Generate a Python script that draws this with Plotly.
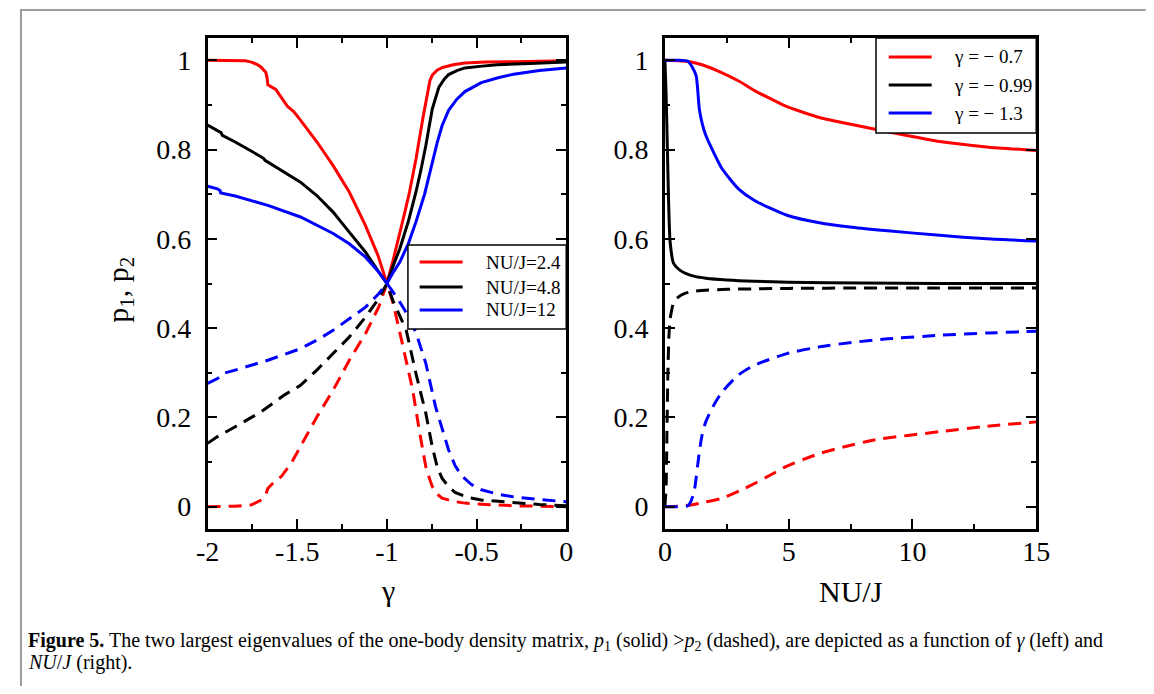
import plotly.graph_objects as go

# page is 1154x694; the html body has an 8px margin, so the figure is sized to fit inside it
OFF = 8
FW, FH = 1154 - 2 * OFF, 694 - 2 * OFF

# ---------------- data: left panel (x = gamma) ----------------
nuj_labels = ["NU/J=2.4", "NU/J=4.8", "NU/J=12"]

g_red_p1 = [-2, -1.85, -1.79, -1.755, -1.72, -1.70, -1.675, -1.668, -1.664, -1.62, -1.59, -1.555, -1.52, -1.48,
            -1.39, -1.30, -1.21, -1.12, -1.05, -1.0, -0.965, -0.93, -0.90, -0.874, -0.838, -0.80, -0.774,
            -0.76, -0.747, -0.72, -0.69, -0.63, -0.565, -0.45, -0.29, -0.15, 0]
red_p1 = [1.0, 1.0, 0.999, 0.996, 0.99, 0.984, 0.973, 0.96, 0.945, 0.935, 0.917, 0.897, 0.885, 0.865,
          0.817, 0.764, 0.705, 0.630, 0.563, 0.50, 0.553, 0.608, 0.66, 0.705, 0.779, 0.869, 0.930,
          0.955, 0.967, 0.978, 0.984, 0.99, 0.994, 0.996, 0.997, 0.998, 0.999]

g_red_p2 = [-2, -1.85, -1.755, -1.70, -1.675, -1.664, -1.63, -1.59, -1.53, -1.482, -1.391, -1.30, -1.21,
            -1.119, -1.046, -1.0, -0.965, -0.91, -0.856, -0.82, -0.783, -0.76, -0.747, -0.72, -0.692,
            -0.63, -0.565, -0.45, -0.293, -0.15, 0]
red_p2 = [0.0, 0.001, 0.004, 0.015, 0.028, 0.041, 0.055, 0.067, 0.10, 0.134, 0.201, 0.261, 0.328,
          0.388, 0.447, 0.50, 0.455, 0.358, 0.261, 0.172, 0.089, 0.06, 0.045, 0.028, 0.019,
          0.012, 0.008, 0.005, 0.002, 0.001, 0.0]

g_blk_p1 = [-2, -1.945, -1.925, -1.918, -1.846, -1.75, -1.70, -1.69, -1.68, -1.573, -1.482, -1.391, -1.30,
            -1.21, -1.119, -1.046, -1.0, -0.965, -0.928, -0.88, -0.838, -0.81, -0.783, -0.747, -0.71,
            -0.68, -0.656, -0.61, -0.565, -0.47, -0.384, -0.2, 0]
blk_p1 = [0.855, 0.843, 0.838, 0.832, 0.817, 0.795, 0.783, 0.781, 0.776, 0.749, 0.727, 0.697, 0.660,
          0.615, 0.570, 0.526, 0.50, 0.54, 0.578, 0.64, 0.705, 0.755, 0.809, 0.891, 0.940,
          0.958, 0.968, 0.977, 0.983, 0.987, 0.990, 0.993, 0.996]

g_blk_p2 = [-2, -1.945, -1.846, -1.70, -1.573, -1.482, -1.391, -1.30, -1.21, -1.119, -1.046, -1.0, -0.965,
            -0.92, -0.892, -0.838, -0.783, -0.747, -0.72, -0.692, -0.656, -0.62, -0.55, -0.474, -0.293,
            -0.15, 0]
blk_p2 = [0.142, 0.157, 0.179, 0.213, 0.25, 0.272, 0.306, 0.343, 0.38, 0.425, 0.466, 0.50, 0.46,
          0.42, 0.395, 0.298, 0.209, 0.134, 0.09, 0.063, 0.045, 0.032, 0.021, 0.015, 0.009,
          0.005, 0.002]

g_blu_p1 = [-2, -1.945, -1.93, -1.927, -1.846, -1.664, -1.482, -1.30, -1.21, -1.119, -1.046, -1.0, -0.965,
            -0.928, -0.88, -0.838, -0.79, -0.747, -0.72, -0.692, -0.656, -0.61, -0.565, -0.474, -0.38,
            -0.293, -0.15, 0]
blu_p1 = [0.718, 0.712, 0.708, 0.703, 0.696, 0.675, 0.649, 0.612, 0.589, 0.559, 0.526, 0.50, 0.525,
          0.548, 0.59, 0.638, 0.70, 0.772, 0.815, 0.854, 0.888, 0.913, 0.930, 0.950, 0.961,
          0.969, 0.977, 0.983]

g_blu_p2 = [-2, -1.945, -1.925, -1.918, -1.846, -1.664, -1.482, -1.391, -1.30, -1.21, -1.119, -1.046, -1.0,
            -0.946, -0.9, -0.838, -0.783, -0.729, -0.656, -0.62, -0.583, -0.53, -0.474, -0.38, -0.293,
            -0.15, 0]
blu_p2 = [0.276, 0.287, 0.293, 0.298, 0.306, 0.328, 0.354, 0.373, 0.395, 0.421, 0.447, 0.477, 0.50,
          0.47, 0.44, 0.39, 0.321, 0.224, 0.127, 0.092, 0.069, 0.05, 0.038, 0.028, 0.022,
          0.016, 0.011]

# ---------------- data: right panel (x = NU/J) ----------------
gamma_labels = ["γ = − 0.7", "γ = − 0.99", "γ = − 1.3"]

u_red_p1 = [0, 0.5, 1.0, 1.5, 2.31, 3.0, 3.62, 4.3, 4.93, 5.6, 6.24, 7.56, 9.0, 11.1, 13.0, 15]
r_red_p1 = [1.0, 0.999, 0.997, 0.99, 0.972, 0.953, 0.932, 0.913, 0.896, 0.883, 0.872, 0.856, 0.84,
            0.818, 0.806, 0.798]

u_red_p2 = [0, 0.5, 1.06, 1.6, 2.31, 3.0, 3.62, 4.3, 4.93, 5.6, 6.24, 7.17, 8.5, 11.1, 13.0, 15]
r_red_p2 = [0.0, 0.001, 0.004, 0.01, 0.019, 0.035, 0.052, 0.072, 0.091, 0.106, 0.119, 0.133, 0.15, 0.168,
            0.18, 0.19]

u_blk_p1 = [0, 0.05, 0.1, 0.15, 0.21, 0.35, 0.6, 0.86, 1.2, 1.65, 2.5, 3.62, 5, 8, 11, 15]
r_blk_p1 = [1.0, 0.92, 0.80, 0.68, 0.593, 0.545, 0.53, 0.522, 0.516, 0.512, 0.508, 0.505, 0.503, 0.501,
            0.50, 0.50]

u_blk_p2 = [0, 0.05, 0.08, 0.12, 0.16, 0.21, 0.35, 0.55, 0.76, 1.1, 1.65, 2.5, 3.62, 5, 8, 11, 15]
r_blk_p2 = [0.0, 0.05, 0.16, 0.3, 0.38, 0.42, 0.457, 0.47, 0.477, 0.482, 0.485, 0.487, 0.488, 0.489,
            0.49, 0.49, 0.49]

u_blu_p1 = [0, 0.5, 0.93, 1.1, 1.26, 1.39, 1.5, 1.65, 2.0, 2.31, 2.97, 3.62, 4.93, 6.24, 7.56, 9.0, 11.1,
            13.0, 15]
r_blu_p1 = [1.0, 1.0, 0.998, 0.985, 0.966, 0.891, 0.86, 0.832, 0.79, 0.757, 0.712, 0.686, 0.653, 0.636,
            0.626, 0.618, 0.608, 0.60, 0.595]

u_blu_p2 = [0, 0.5, 0.93, 1.05, 1.19, 1.39, 1.5, 1.65, 2.0, 2.31, 2.97, 3.62, 4.93, 6.24, 7.56, 9.0, 11.1,
            13.0, 15]
r_blu_p2 = [0.0, 0.0, 0.002, 0.012, 0.037, 0.123, 0.16, 0.19, 0.23, 0.257, 0.295, 0.317, 0.343, 0.358,
            0.368, 0.376, 0.384, 0.389, 0.393]

# tick labels
left_xticks = [-2, -1.5, -1, -0.5, 0]
left_xticktext = ["-2", "-1.5", "-1", "-0.5", "0"]
right_xticks = [0, 5, 10, 15]
right_xticktext = ["0", "5", "10", "15"]
yticks = [0, 0.2, 0.4, 0.6, 0.8, 1.0]
yticktext = ["0", "0.2", "0.4", "0.6", "0.8", "1"]

colors = ["#ff0000", "#000000", "#0000ff"]

# ---------------- geometry helpers (page pixels -> paper fraction) ----------------
def fx(px):
    return (px - OFF) / FW

def fy(py):
    return 1 - (py - OFF) / FH

SERIF = "Liberation Serif"
LW = 3
DASH = "13px,8px"

fig = go.Figure()

left_sets = [(g_red_p1, red_p1, g_red_p2, red_p2),
             (g_blk_p1, blk_p1, g_blk_p2, blk_p2),
             (g_blu_p1, blu_p1, g_blu_p2, blu_p2)]
for (x1, y1, x2, y2), c, name in zip(left_sets, colors, nuj_labels):
    fig.add_trace(go.Scatter(x=x1, y=y1, mode="lines", line=dict(color=c, width=LW),
                             name=name, xaxis="x", yaxis="y", showlegend=False))
    fig.add_trace(go.Scatter(x=x2, y=y2, mode="lines", line=dict(color=c, width=LW, dash=DASH),
                             name=name, xaxis="x", yaxis="y", showlegend=False))

right_sets = [(u_red_p1, r_red_p1, u_red_p2, r_red_p2),
              (u_blk_p1, r_blk_p1, u_blk_p2, r_blk_p2),
              (u_blu_p1, r_blu_p1, u_blu_p2, r_blu_p2)]
for (x1, y1, x2, y2), c, name in zip(right_sets, colors, gamma_labels):
    fig.add_trace(go.Scatter(x=x1, y=y1, mode="lines",
                             line=dict(color=c, width=LW, shape="spline", smoothing=0.6),
                             name=name, xaxis="x2", yaxis="y2", showlegend=False))
    fig.add_trace(go.Scatter(x=x2, y=y2, mode="lines",
                             line=dict(color=c, width=LW, dash=DASH, shape="spline", smoothing=0.6),
                             name=name, xaxis="x2", yaxis="y2", showlegend=False))

tickfont = dict(family=SERIF, size=28, color="black")
common = dict(showline=True, linecolor="black", linewidth=2.5, mirror="ticks", ticks="inside",
              ticklen=10, tickwidth=2, tickcolor="black", showgrid=False, zeroline=False,
              tickfont=tickfont)

def minor(dt):
    return dict(tickmode="linear", tick0=0, dtick=dt, ticks="inside", ticklen=5, tickwidth=2,
                tickcolor="black")

top_py, bot_py = 38, 529
ydom = [fy(bot_py), fy(top_py)]

fig.update_layout(
    width=FW, height=FH, margin=dict(l=0, r=0, t=0, b=0),
    paper_bgcolor="white", plot_bgcolor="white", showlegend=False,
    xaxis=dict(domain=[fx(200), fx(567)], range=[-2, 0], anchor="y",
               tickmode="array", tickvals=left_xticks, ticktext=left_xticktext,
               minor=minor(0.25), ticklabelstandoff=-4, **common),
    yaxis=dict(domain=ydom, range=[-0.05, 1.05], anchor="x",
               tickmode="array", tickvals=yticks, ticktext=yticktext,
               minor=minor(0.1), ticklabelstandoff=8, **common),
    xaxis2=dict(domain=[fx(668), fx(1048)], range=[0, 15], anchor="y2",
                tickmode="array", tickvals=right_xticks, ticktext=right_xticktext,
                minor=minor(2.5), ticklabelstandoff=-4, **common),
    yaxis2=dict(domain=ydom, range=[-0.05, 1.05], anchor="x2",
                tickmode="array", tickvals=yticks, ticktext=yticktext,
                minor=minor(0.1), ticklabelstandoff=8, **common),
)

shapes = []
annos = []

# outer frame (top and left edges visible)
shapes.append(dict(type="line", xref="paper", yref="paper", x0=fx(8), x1=fx(1160), y0=fy(10), y1=fy(10),
                   line=dict(color="#9c9c9c", width=2)))
shapes.append(dict(type="line", xref="paper", yref="paper", x0=fx(9), x1=fx(9), y0=fy(10), y1=fy(700),
                   line=dict(color="#9c9c9c", width=2)))

def legend(box, line_x, rows, text_x, labels):
    x0, x1, y0, y1 = box
    shapes.append(dict(type="rect", xref="paper", yref="paper", x0=fx(x0), x1=fx(x1), y0=fy(y1), y1=fy(y0),
                       fillcolor="white", line=dict(color="black", width=1.5), layer="above"))
    for r, c, lab in zip(rows, colors, labels):
        shapes.append(dict(type="line", xref="paper", yref="paper", x0=fx(line_x[0]), x1=fx(line_x[1]),
                           y0=fy(r), y1=fy(r), line=dict(color=c, width=LW), layer="above"))
        annos.append(dict(text=lab, xref="paper", yref="paper", x=fx(text_x), y=fy(r), xanchor="left",
                          yanchor="middle", showarrow=False, font=dict(family=SERIF, size=19, color="black")))

legend((405, 567, 245, 329), (417, 461), (262, 287, 310), 483, nuj_labels)
legend((884, 1048, 38, 133), (897, 941), (57, 85, 113), 962, gamma_labels)

# axis titles
annos.append(dict(text="p<sub>1</sub>, p<sub>2</sub>", xref="paper", yref="paper", x=fx(110), y=fy(290),
                  textangle=-90, xanchor="center", yanchor="middle", showarrow=False,
                  font=dict(family=SERIF, size=30, color="black")))
annos.append(dict(text="γ", xref="paper", yref="paper", x=fx(385), y=fy(590), xanchor="center",
                  yanchor="middle", showarrow=False, font=dict(family=SERIF, size=30, color="black")))
annos.append(dict(text="NU/J", xref="paper", yref="paper", x=fx(858), y=fy(591), xanchor="center",
                  yanchor="middle", showarrow=False, font=dict(family=SERIF, size=30, color="black")))

# caption
cap1 = ("<b>Figure 5.</b> The two largest eigenvalues of the one-body density matrix, <i>p</i><sub>1</sub> (solid) "
        "&gt;<i>p</i><sub>2</sub> (dashed), are depicted as a function of <i>γ</i> (left) and")
cap2 = "<i>NU</i>/<i>J</i> (right)."
annos.append(dict(text=cap1, xref="paper", yref="paper", x=fx(14), y=fy(641), xanchor="left",
                  yanchor="middle", showarrow=False, font=dict(family=SERIF, size=20, color="black")))
annos.append(dict(text=cap2, xref="paper", yref="paper", x=fx(14), y=fy(662), xanchor="left",
                  yanchor="middle", showarrow=False, font=dict(family=SERIF, size=20, color="black")))

fig.update_layout(shapes=shapes, annotations=annos)
fig.write_html("out.html", config={"displayModeBar": False})
